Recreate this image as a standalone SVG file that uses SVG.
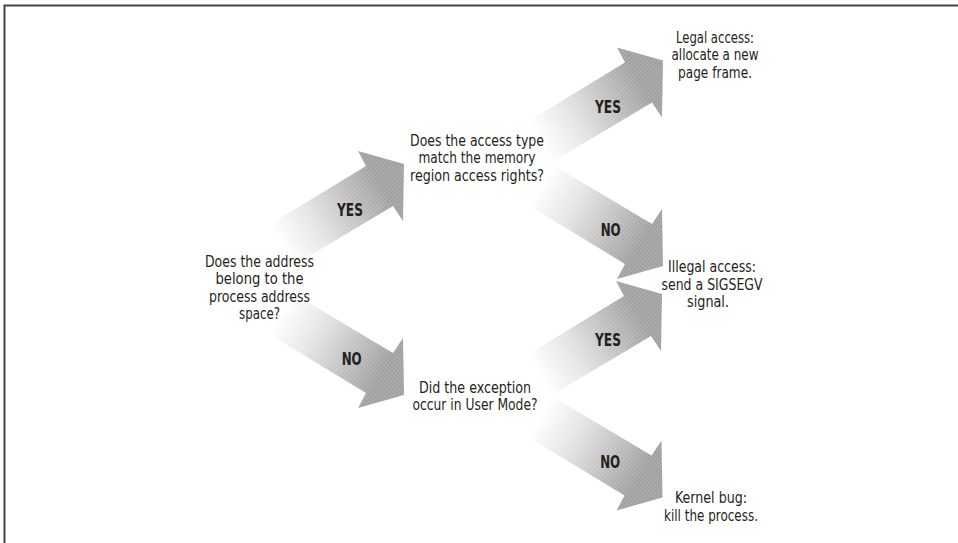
<svg xmlns="http://www.w3.org/2000/svg" xmlns:xlink="http://www.w3.org/1999/xlink" width="958" height="543" viewBox="0 0 958 543">
  <style>
    .t { font-family: "Liberation Sans Narrow", "DejaVu Sans Condensed", "Liberation Sans", sans-serif; font-stretch: condensed; font-size: 16.5px; fill: #231f20; text-anchor: middle; }
    .lbl { font-family: "Liberation Sans Narrow", "DejaVu Sans Condensed", "Liberation Sans", sans-serif; font-stretch: condensed; font-weight: bold; font-size: 17.5px; fill: #231f20; text-anchor: middle; }
    .frame { fill: none; stroke: #444; stroke-width: 2; }
  </style>
  <defs>
    <linearGradient id="grad" gradientUnits="userSpaceOnUse" x1="281" y1="245" x2="382" y2="186">
      <stop offset="0" stop-color="#ffffff"/>
      <stop offset="0.35" stop-color="#e4e4e4"/>
      <stop offset="1" stop-color="#a0a0a0"/>
    </linearGradient>
    <pattern id="hatch" patternUnits="userSpaceOnUse" width="3" height="3" patternTransform="rotate(45)">
      <rect x="0" y="0" width="1" height="3" fill="#ffffff" fill-opacity="0.18"/>
    </pattern>
    <g id="arrow">
      <polygon points="269,225 366,166 358,151 404,164 403,221 393,206 294,265" fill="url(#grad)"/>
      <polygon points="269,225 366,166 358,151 404,164 403,221 393,206 294,265" fill="url(#hatch)"/>
    </g>
  </defs>

  <path class="frame" d="M4.5,543 V5.5 H958"/>

  <g id="connectors">
    <g id="arrow-q1-yes">
      <use xlink:href="#arrow" href="#arrow"/>
      <text class="lbl" x="350" y="216" textLength="26" lengthAdjust="spacingAndGlyphs">YES</text>
    </g>
    <g id="arrow-q1-no">
      <use xlink:href="#arrow" href="#arrow" transform="translate(0,559) scale(1,-1)"/>
      <text class="lbl" x="351.7" y="365" textLength="20" lengthAdjust="spacingAndGlyphs">NO</text>
    </g>
    <g id="arrow-q2-yes">
      <use xlink:href="#arrow" href="#arrow" transform="translate(259,-103.5)"/>
      <text class="lbl" x="608" y="112.5" textLength="26" lengthAdjust="spacingAndGlyphs">YES</text>
    </g>
    <g id="arrow-q2-no">
      <use xlink:href="#arrow" href="#arrow" transform="translate(259,430) scale(1,-1)"/>
      <text class="lbl" x="610.7" y="236" textLength="20" lengthAdjust="spacingAndGlyphs">NO</text>
    </g>
    <g id="arrow-q3-yes">
      <use xlink:href="#arrow" href="#arrow" transform="translate(258,130)"/>
      <text class="lbl" x="608" y="346" textLength="26" lengthAdjust="spacingAndGlyphs">YES</text>
    </g>
    <g id="arrow-q3-no">
      <use xlink:href="#arrow" href="#arrow" transform="translate(258.5,661.5) scale(1,-1)"/>
      <text class="lbl" x="610.2" y="467.5" textLength="20" lengthAdjust="spacingAndGlyphs">NO</text>
    </g>
  </g>

  <g id="q1">
    <text class="t" x="259.5" y="266.5" textLength="109" lengthAdjust="spacingAndGlyphs">Does the address</text>
    <text class="t" x="259.5" y="284" textLength="88" lengthAdjust="spacingAndGlyphs">belong to the</text>
    <text class="t" x="259.5" y="301.5" textLength="101" lengthAdjust="spacingAndGlyphs">process address</text>
    <text class="t" x="259.5" y="319" textLength="41" lengthAdjust="spacingAndGlyphs">space?</text>
  </g>
  <g id="q2">
    <text class="t" x="477" y="145.5" textLength="134" lengthAdjust="spacingAndGlyphs">Does the access type</text>
    <text class="t" x="477" y="163" textLength="117" lengthAdjust="spacingAndGlyphs">match the memory</text>
    <text class="t" x="477" y="180.5" textLength="134" lengthAdjust="spacingAndGlyphs">region access rights?</text>
  </g>
  <g id="q3">
    <text class="t" x="475" y="392.5" textLength="112" lengthAdjust="spacingAndGlyphs">Did the exception</text>
    <text class="t" x="475" y="410" textLength="125" lengthAdjust="spacingAndGlyphs">occur in User Mode?</text>
  </g>
  <g id="legal">
    <text class="t" x="715" y="42.5" textLength="78" lengthAdjust="spacingAndGlyphs">Legal access:</text>
    <text class="t" x="715" y="60" textLength="87" lengthAdjust="spacingAndGlyphs">allocate a new</text>
    <text class="t" x="715" y="77.5" textLength="74" lengthAdjust="spacingAndGlyphs">page frame.</text>
  </g>
  <g id="illegal">
    <text class="t" x="712" y="272" textLength="88" lengthAdjust="spacingAndGlyphs">Illegal access:</text>
    <text class="t" x="712" y="289.5" textLength="101" lengthAdjust="spacingAndGlyphs">send a SIGSEGV</text>
    <text class="t" x="708" y="307" textLength="42" lengthAdjust="spacingAndGlyphs">signal.</text>
  </g>
  <g id="kernel">
    <text class="t" x="711" y="503" textLength="72" lengthAdjust="spacingAndGlyphs">Kernel bug:</text>
    <text class="t" x="711" y="520.5" textLength="94" lengthAdjust="spacingAndGlyphs">kill the process.</text>
  </g>
</svg>
